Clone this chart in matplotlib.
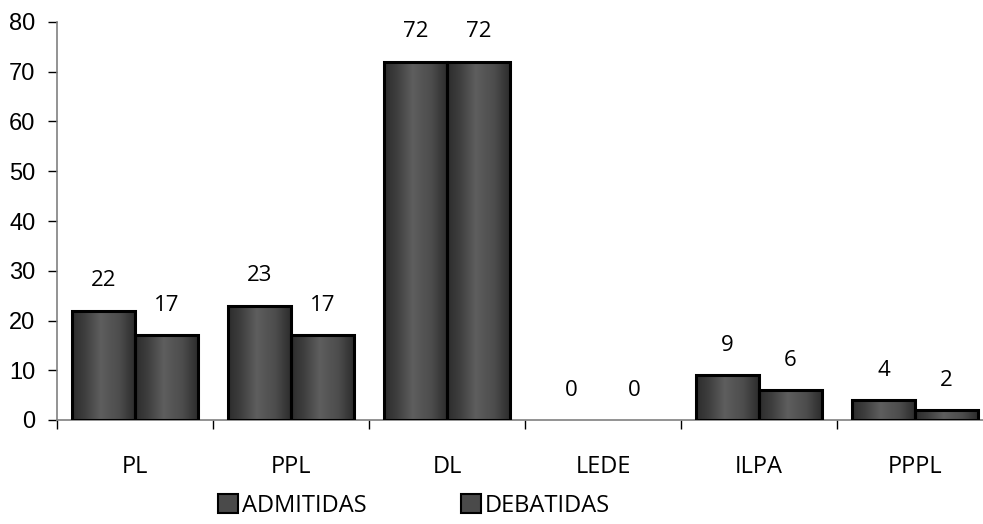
import matplotlib
matplotlib.use("Agg")
import matplotlib.pyplot as plt
import numpy as np
from matplotlib.patches import Patch
from matplotlib.colors import LinearSegmentedColormap

categories = ["PL", "PPL", "DL", "LEDE", "ILPA", "PPPL"]
admitidas = [22, 23, 72, 0, 9, 4]
debatidas = [17, 17, 72, 0, 6, 2]
series_names = ["ADMITIDAS", "DEBATIDAS"]
yticks = [0, 10, 20, 30, 40, 50, 60, 70, 80]

W, H = 983, 524
fig = plt.figure(figsize=(W / 100, H / 100), dpi=100)
ax = fig.add_axes([57 / W, 104 / H, (993 - 57) / W, (420 - 22) / H])

cmap = LinearSegmentedColormap.from_list(
    "barg", [(0.0, "#2c2c2c"), (0.2, "#3e3e3e"), (0.45, "#5e5e5e"),
             (0.75, "#4c4c4c"), (1.0, "#2a2a2a")])
grad = np.linspace(0, 1, 256).reshape(1, -1)

x = np.arange(len(categories))
bw = 0.405
label_font = "Open Sans"

for vals, off in ((admitidas, -bw / 2), (debatidas, bw / 2)):
    bars = ax.bar(x + off, vals, width=bw, facecolor="none",
                  edgecolor="black", linewidth=2.2, zorder=4)
    for rect, v in zip(bars.patches, vals):
        x0 = rect.get_x()
        x1 = x0 + rect.get_width()
        if v > 0:
            ax.imshow(grad, cmap=cmap, extent=(x0, x1, 0, v), aspect="auto",
                      zorder=3, interpolation="bilinear")
        else:
            rect.set_visible(False)
        ax.text(x0 + rect.get_width() / 2, v + 6, str(v), ha="center",
                va="center", fontsize=16, family=label_font, color="black")

ax.set_xlim(-0.5, len(categories) - 0.5)
ax.set_ylim(0, 80)
ax.set_yticks(yticks)
ax.set_yticklabels([str(t) for t in yticks], family="Liberation Sans", fontsize=17)
ax.set_xticks(np.arange(len(categories) + 1) - 0.5)
ax.set_xticklabels([])
ax.set_xticks(x, minor=True)
ax.set_xticklabels(categories, minor=True, family=label_font, fontsize=17)
ax.tick_params(axis="x", which="minor", length=0, pad=25)
ax.tick_params(axis="x", which="major", length=6.5, width=1, color="black", direction="out")
ax.tick_params(axis="y", length=6.5, width=1, color="black", direction="out", pad=9)

for s in ("top", "right"):
    ax.spines[s].set_visible(False)
ax.spines["left"].set_color("#808080")
ax.spines["left"].set_linewidth(1.2)
ax.spines["bottom"].set_color("#808080")
ax.spines["bottom"].set_linewidth(1.2)

handles = [Patch(facecolor="#4a4a4a", edgecolor="black", linewidth=1.5) for _ in series_names]
fig.legend(handles, series_names, loc="center", bbox_to_anchor=(414 / W, 1 - 506 / H),
           ncol=2, frameon=False, prop={"family": label_font, "size": 17},
           handlelength=0.85, handleheight=0.85, handletextpad=0.15, columnspacing=4.0)

fig.savefig("out.png", dpi=100)
